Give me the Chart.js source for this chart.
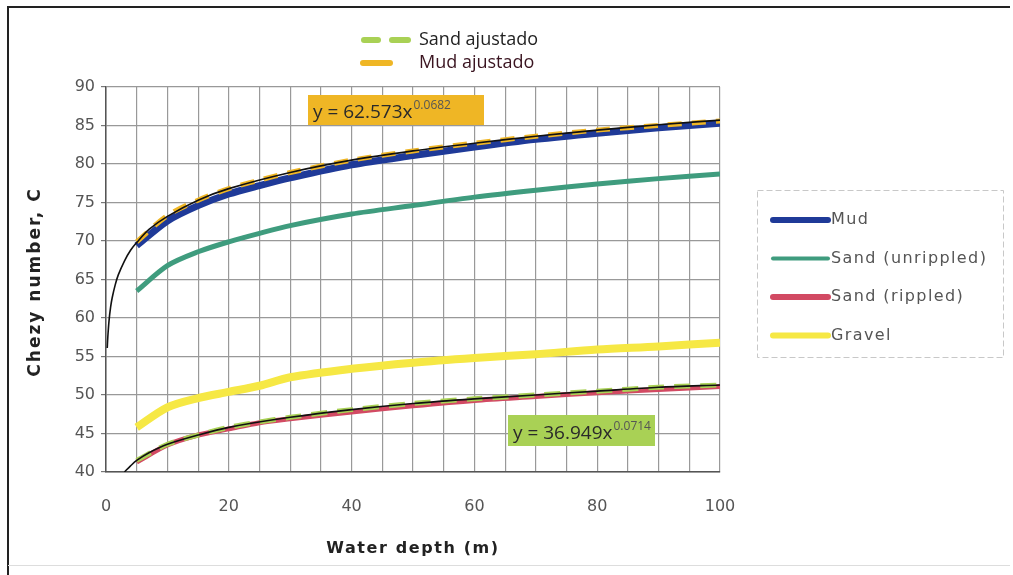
<!DOCTYPE html>
<html><head><meta charset="utf-8">
<script src="https://cdn.jsdelivr.net/npm/chart.js@4.4.0/dist/chart.umd.min.js"></script>
<style>html,body{margin:0;padding:0;background:#fff}#wrap{width:1013px;height:575px;position:relative}</style>
</head><body><div id="wrap"><canvas id="c" width="1013" height="575"></canvas></div>
<script>
// Data
const depth = [5, 10, 15, 20, 25, 30, 40, 50, 60, 70, 80, 90, 100];
const mud = [69.4, 72.6, 74.6, 76.1, 77.2, 78.2, 79.9, 81.1, 82.2, 83.2, 84.0, 84.7, 85.3];
const sandUnrippled = [63.5, 66.8, 68.6, 69.9, 71.0, 72.0, 73.5, 74.6, 75.7, 76.6, 77.4, 78.1, 78.7];
const sandRippled = [41.3, 43.5, 44.8, 45.6, 46.4, 46.9, 47.8, 48.6, 49.3, 49.8, 50.3, 50.7, 51.1];
const gravel = [45.8, 48.4, 49.6, 50.4, 51.2, 52.3, 53.4, 54.2, 54.8, 55.3, 55.9, 56.3, 56.8];
const mudAjustado = [69.9, 73.3, 75.3, 76.8, 77.9, 78.9, 80.5, 81.7, 82.7, 83.6, 84.4, 85.0, 85.6];
const sandAjustado = [41.5, 43.6, 44.8, 45.8, 46.5, 47.1, 48.1, 48.9, 49.5, 50.0, 50.5, 51.0, 51.3];
// black trend curves as seen on the picture
const mudTrendX = [0.2, 0.3, 0.5, 0.75, 1, 1.5, 2, 3, 4, 5, 7, 10, 15, 20, 30, 40, 50, 60, 70, 80, 90, 100];
const mudTrendY = [56.1, 57.6, 59.7, 61.4, 62.6, 64.3, 65.6, 67.4, 68.8, 69.8, 71.5, 73.2, 75.3, 76.8, 78.9, 80.5, 81.7, 82.7, 83.6, 84.4, 85.1, 85.7];
const sandTrendX = [3, 4, 5, 7, 10, 15, 20, 30, 40, 50, 60, 70, 80, 90, 100];
const sandTrendY = [40.0, 40.8, 41.5, 42.5, 43.6, 44.8, 45.8, 47.1, 48.1, 48.9, 49.5, 50.0, 50.5, 51.0, 51.3];
const yTicks = [40, 45, 50, 55, 60, 65, 70, 75, 80, 85, 90];
const xTickLabels = [0, 20, 40, 60, 80, 100];
const mudEquation = ["y = 62.573x", "0.0682"];
const sandEquation = ["y = 36.949x", "0.0714"];
const xTitle = 'Water depth (m)';
const yTitle = 'Chezy number, C';

const pts = (xs, ys) => xs.map((x, i) => ({x, y: ys[i]}));

const C = {
  mud: '#1f3a98', sandU: '#3f9c7e', sandR: '#d24a63', gravel: '#f6e844',
  mudAj: '#efb625', sandAj: '#a9d155'
};

const framePlugin = {
  id: 'frame',
  beforeDraw(chart) {
    const ctx = chart.ctx;
    ctx.save();
    ctx.fillStyle = '#fff';
    ctx.fillRect(0, 0, chart.width, chart.height);
    ctx.restore();
  },
  afterDraw(chart) {
    const ctx = chart.ctx;
    ctx.save();
    // outer frame
    ctx.strokeStyle = '#222';
    ctx.lineWidth = 2;
    ctx.beginPath();
    ctx.moveTo(8, 575); ctx.lineTo(8, 7); ctx.lineTo(1010, 7);
    ctx.stroke();
    ctx.strokeStyle = '#ddd';
    ctx.lineWidth = 1;
    ctx.beginPath();
    ctx.moveTo(8, 565.5); ctx.lineTo(1010, 565.5);
    ctx.stroke();

    // axis titles
    ctx.fillStyle = '#222';
    ctx.textAlign = 'center';
    ctx.textBaseline = 'middle';
    ctx.font = 'bold 16px "DejaVu Sans", sans-serif';
    ctx.letterSpacing = '1.6px';
    ctx.fillText(xTitle, 413, 549);
    ctx.save();
    ctx.translate(36, 282);
    ctx.rotate(-Math.PI / 2);
    ctx.font = 'bold 17px "DejaVu Sans", sans-serif';
    ctx.letterSpacing = '2px';
    ctx.fillText(yTitle, 0, 0);
    ctx.restore();
    ctx.letterSpacing = '0px';

    // equation boxes
    const box = (x, y, w, h, fill, eq) => {
      ctx.fillStyle = fill;
      ctx.fillRect(x, y, w, h);
      ctx.fillStyle = '#2a2a2a';
      ctx.font = '19px "Open Sans", sans-serif';
      ctx.textBaseline = 'alphabetic';
      ctx.textAlign = 'left';
      ctx.fillText(eq[0], x + 5, y + h - 7);
      const w0 = ctx.measureText(eq[0]).width;
      ctx.font = '12px "Open Sans", sans-serif';
      ctx.fillStyle = '#555';
      ctx.fillText(eq[1], x + 5 + w0 + 1, y + h - 16);
    };
    box(308, 95, 176, 30, C.mudAj, mudEquation);
    box(508, 415, 147, 31, C.sandAj, sandEquation);

    // top legend
    ctx.lineCap = 'round';
    ctx.lineWidth = 6;
    ctx.strokeStyle = C.sandAj;
    ctx.beginPath(); ctx.moveTo(364, 40); ctx.lineTo(378, 40); ctx.stroke();
    ctx.beginPath(); ctx.moveTo(392, 40); ctx.lineTo(408, 40); ctx.stroke();
    ctx.strokeStyle = C.mudAj;
    ctx.beginPath(); ctx.moveTo(363, 63); ctx.lineTo(390, 63); ctx.stroke();
    ctx.fillStyle = '#222';
    ctx.font = '18px "Open Sans", sans-serif';
    ctx.textBaseline = 'middle';
    ctx.fillText('Sand ajustado', 419, 40);
    ctx.fillStyle = '#3a1420';
    ctx.fillText('Mud ajustado', 419, 63);

    // right legend
    ctx.lineCap = 'butt';
    ctx.strokeStyle = '#c8c8c8';
    ctx.lineWidth = 1;
    ctx.setLineDash([6, 3]);
    ctx.strokeRect(757.5, 190.5, 246, 167);
    ctx.setLineDash([]);
    const items = [['Mud', C.mud], ['Sand (unrippled)', C.sandU], ['Sand (rippled)', C.sandR], ['Gravel', C.gravel]];
    ctx.font = '16px "DejaVu Sans", sans-serif';
    ctx.letterSpacing = '1.4px';
    items.forEach((it, i) => {
      const y = 220 + i * 38.5;
      ctx.strokeStyle = it[1];
      ctx.lineWidth = i === 1 ? 4 : 6;
      ctx.lineCap = 'round';
      ctx.beginPath(); ctx.moveTo(773, y); ctx.lineTo(828, y); ctx.stroke();
      ctx.fillStyle = '#555';
      ctx.fillText(it[0], 831, y);
    });
    ctx.letterSpacing = '0px';
    ctx.restore();
  }
};

const line = (label, xs, ys, color, width, order, dash) => ({
  label, data: pts(xs, ys), borderColor: color, borderWidth: width, borderDash: dash || [],
  showLine: true, pointRadius: 0, tension: 0.3, order
});

new Chart(document.getElementById('c'), {
  type: 'scatter',
  data: {
    datasets: [
      line('Gravel', depth, gravel, C.gravel, 8, 8),
      line('Sand (unrippled)', depth, sandUnrippled, C.sandU, 5, 7),
      line('Mud', depth, mud, C.mud, 7, 6),
      line('Mud ajustado', depth, mudAjustado, C.mudAj, 5, 5, [14, 10]),
      line('Sand (rippled)', depth, sandRippled, C.sandR, 5, 4),
      line('Sand ajustado', depth, sandAjustado, C.sandAj, 5, 3, [16, 10]),
      line('Mud trend', mudTrendX, mudTrendY, '#111', 1.6, 1),
      line('Sand trend', sandTrendX, sandTrendY, '#111', 1.6, 2)
    ]
  },
  options: {
    responsive: false,
    animation: false,
    events: [],
    layout: {padding: {left: 24, top: 87, right: 293, bottom: 12}},
    plugins: {legend: {display: false}, tooltip: {enabled: false}},
    scales: {
      x: {
        type: 'linear', min: 0, max: 100,
        afterFit: s => { s.height = 91; },
        afterBuildTicks: s => { s.ticks = []; for (let v = 0; v <= 100; v += 5) s.ticks.push({value: v}); },
        ticks: {
          autoSkip: false, maxRotation: 0, padding: 25,
          callback: v => xTickLabels.includes(v) ? String(v) : '',
          font: {family: '"DejaVu Sans", sans-serif', size: 16}, color: '#555'
        },
        grid: {color: '#999', lineWidth: 1.2, drawTicks: false},
        border: {color: '#555', width: 1.5}
      },
      y: {
        min: 40, max: 90,
        afterFit: s => { s.width = 82; },
        afterBuildTicks: s => { s.ticks = yTicks.map(v => ({value: v})); },
        ticks: {padding: 6, font: {family: '"DejaVu Sans", sans-serif', size: 16}, color: '#555'},
        grid: {color: '#999', lineWidth: 1.2, tickLength: 5, tickColor: '#777'},
        border: {color: '#555', width: 1.5}
      }
    }
  },
  plugins: [framePlugin]
});
</script></body></html>
